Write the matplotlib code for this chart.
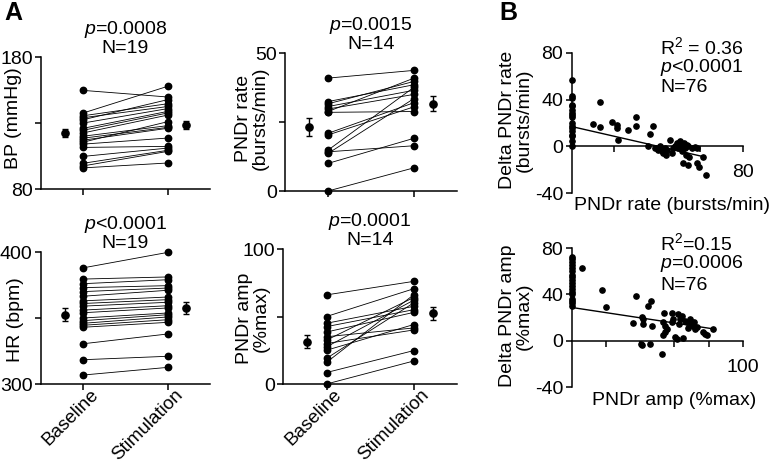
import matplotlib
matplotlib.use('Agg')
import matplotlib.pyplot as plt
import matplotlib.transforms as mtransforms
import numpy as np

plt.rcParams['font.family'] = ['Liberation Sans', 'DejaVu Sans']
plt.rcParams['mathtext.fontset'] = 'custom'
plt.rcParams['mathtext.rm'] = 'Liberation Sans'
plt.rcParams['mathtext.it'] = 'Liberation Sans:italic'
FS = 14
plt.rcParams['font.size'] = FS

# ---------------- data ----------------
groups = ['Baseline', 'Stimulation']

bp_base = [154.7, 137.6, 135.5, 134.0, 132.5, 130.0, 126.0, 124.5, 122.5, 120.0,
           118.5, 117.0, 115.5, 114.0, 111.5, 104.7, 99.5, 97.5, 96.0]
bp_stim = [149.7, 157.8, 144.6, 142.5, 147.7, 140.9, 138.8, 137.6, 136.0, 128.0,
           126.7, 126.0, 131.0, 118.6, 112.3, 111.0, 109.3, 108.5, 99.7]
bp_mean = [122.4, 128.7]
bp_sem = [3.0, 3.0]

rate_base = [40.9, 32.4, 31.6, 30.6, 29.7, 28.8, 28.5, 20.9, 20.3, 14.8, 14.2, 13.6, 10.0, 0.0]
rate_stim = [43.7, 38.5, 39.7, 36.5, 35.0, 40.9, 28.8, 32.0, 30.5, 37.6, 16.4, 33.5, 19.1, 8.4]
rate_mean = [23.1, 31.6]
rate_sem = [3.2, 2.7]

hr_base = [388.0, 379.5, 376.0, 373.0, 370.0, 366.5, 363.0, 361.0, 359.0, 356.0,
           354.0, 350.0, 348.0, 346.0, 344.5, 343.0, 330.5, 318.4, 306.8]
hr_stim = [399.7, 381.1, 379.0, 374.5, 372.7, 371.0, 365.9, 363.9, 361.9, 359.3,
           357.6, 353.8, 352.5, 350.8, 348.7, 346.7, 337.9, 321.0, 312.6]
hr_mean = [352.5, 357.6]
hr_sem = [4.8, 4.8]

amp_base = [66.0, 50.0, 45.0, 42.5, 38.5, 35.0, 32.5, 30.0, 27.5, 25.0, 19.0, 16.0, 8.5, 0.0]
amp_stim = [76.0, 70.5, 57.5, 55.0, 53.0, 41.5, 64.0, 40.0, 62.0, 44.0, 60.0, 66.0, 24.7, 17.0]
amp_mean = [31.4, 52.3]
amp_sem = [5.0, 5.0]

# Panel B: baseline value vs delta
rate_x = [0]*17 + [13.5, 9.8, 13.5, 19.0, 21.0, 21.3, 21.8, 26.2, 30.0, 30.0, 36.6, 38.1,
                   35.8, 38.9, 40.5, 41.3, 42.0, 42.8, 43.6, 44.1, 44.7, 45.9, 46.7, 47.5,
                   48.3, 49.1, 49.8, 50.6, 50.9, 51.4, 51.9, 52.5, 53.0, 53.4, 53.7, 54.2,
                   54.5, 55.0, 56.1, 58.4, 58.7, 59.6, 61.2, 62.8, 57.6]
rate_dy = [56.6, 42.9, 41.4, 35.7, 34.3, 31.4, 28.6, 27.1, 25.1, 20.0, 17.1, 15.7, 12.9,
           10.0, 8.6, 4.3, 0.0,
           38.0, 19.4, 16.6, 20.6, 18.6, 15.7, 5.7, 13.7, 25.1, 17.1, 10.9, 17.7,
           0.6, -1.4, -2.9, 0.0, -4.3, -5.7, -1.4, -7.1, -2.9, 5.7, -5.7, -1.4,
           0.6, 2.9, -1.4, 4.3, 0.6, -4.3, -14.3, 2.9, -1.4, -7.1, 1.4, -15.7,
           0.0, -9.1, -1.4, -1.4, -14.3, -17.7, -9.1, -24.3, -0.6]
rate_fit = [17.0, -0.42]   # intercept, slope
rate_fit_x = [0, 62]

amp_x = [0]*18 + [6.4, 17.5, 20.4, 37.5, 35.6, 40.9, 41.4, 41.8, 40.5, 40.9, 44.7, 46.1,
                  46.7, 45.7, 52.5, 53.9, 53.5, 54.5, 53.5, 54.5, 55.4, 58.4, 58.4, 59.3,
                  60.3, 61.3, 62.3, 62.8, 63.2, 64.2, 64.8, 66.1, 67.1, 68.1, 69.1, 70.0,
                  71.0, 71.4, 72.0, 73.0, 76.8, 77.8, 79.2, 82.3]
amp_dy = [72.6, 70.4, 67.5, 65.5, 62.7, 59.9, 57.0, 55.0, 52.8, 49.9, 47.1, 44.8, 42.0,
          40.0, 36.3, 34.3, 32.3, 30.1,
          62.7, 43.7, 28.7, 38.6, 15.3, 20.1, 18.7, 14.5, -2.6, -3.4, 29.5, 34.3,
          12.5, -2.6, -11.1, 23.8, 15.9, 12.5, 4.5, 7.4, 10.2, 23.8, 15.9, 18.7,
          3.1, 1.7, 23.0, 14.5, 18.7, 21.0, 2.3, 17.3, 15.9, 10.8, 18.7, 14.5,
          12.5, 16.5, 10.2, 11.6, 7.9, 6.0, 5.1, 10.2]
amp_fit = [28.7, -0.224]
amp_fit_x = [0, 82.5]

# ---------------- layout ----------------
W, H = 771, 465
fig = plt.figure(figsize=(W / 100, H / 100), dpi=100)


def rect(l, t, r, b):
    return [l / W, 1 - b / H, (r - l) / W, (b - t) / H]


def style(ax):
    for s in ['top', 'right']:
        ax.spines[s].set_visible(False)
    for s in ['left', 'bottom']:
        ax.spines[s].set_linewidth(1.1)
    ax.tick_params(direction='out', length=4, width=1.1, labelsize=FS, pad=2)


def paired(ax, base, stim, mean, sem, ylim, yticks, ylabels, title, show_x):
    for b, s in zip(base, stim):
        ax.plot([1, 2], [b, s], color='black', lw=0.6, zorder=2)
    ax.plot(np.ones(len(base)), base, 'o', color='black', ms=4.6, zorder=3, clip_on=False)
    ax.plot(np.full(len(stim), 2), stim, 'o', color='black', ms=4.6, zorder=3, clip_on=False)
    ax.errorbar([0.78, 2.22], mean, yerr=sem, fmt='o', color='black', ms=5.2,
                capsize=2.5, elinewidth=1, capthick=1, zorder=3)
    ax.set_xlim(0.5, 2.5)
    ax.set_ylim(*ylim)
    ax.set_yticks(yticks)
    ax.set_yticklabels(ylabels)
    ax.set_xticks([1, 2])
    style(ax)
    if show_x:
        labels = ax.set_xticklabels(groups, rotation=45, ha='right', va='top',
                                    rotation_mode='anchor', fontsize=13.5)
        off = mtransforms.ScaledTranslation(7 / 100, 6 / 100, fig.dpi_scale_trans)
        for lab in labels:
            lab.set_transform(lab.get_transform() + off)
    else:
        ax.set_xticklabels(['', ''])
    ax.set_title(title, fontsize=FS, linespacing=0.95, pad=3)


ax1 = fig.add_axes(rect(41, 57, 210, 189))
paired(ax1, bp_base, bp_stim, bp_mean, bp_sem, (80, 180), [80, 130, 180], ['80', '', '180'],
       r'$\it{p}$=0.0008' + '\nN=19', False)
fig.text(14 / W, 1 - 118 / H, 'BP (mmHg)', rotation=90, ha='center', va='center', fontsize=FS)

ax2 = fig.add_axes(rect(285, 53, 457, 191))
paired(ax2, rate_base, rate_stim, rate_mean, rate_sem, (0, 50), [0, 25, 50], ['0', '', '50'],
       r'$\it{p}$=0.0015' + '\nN=14', False)
fig.text(252 / W, 1 - 118 / H, 'PNDr rate\n(bursts/min)', rotation=90, ha='center',
         va='center', fontsize=FS, multialignment='center', linespacing=1.0)

ax3 = fig.add_axes(rect(41, 252, 210, 384))
paired(ax3, hr_base, hr_stim, hr_mean, hr_sem, (300, 400), [300, 350, 400], ['300', '', '400'],
       r'$\it{p}$<0.0001' + '\nN=19', True)
fig.text(16 / W, 1 - 320 / H, 'HR (bpm)', rotation=90, ha='center', va='center', fontsize=FS)

ax4 = fig.add_axes(rect(283, 249, 457, 384))
paired(ax4, amp_base, amp_stim, amp_mean, amp_sem, (0, 100), [0, 50, 100], ['0', '', '100'],
       r'$\it{p}$=0.0001' + '\nN=14', True)
fig.text(253 / W, 1 - 318 / H, 'PNDr amp\n(%max)', rotation=90, ha='center',
         va='center', fontsize=FS, multialignment='center', linespacing=1.0)


def scatter_panel(ax, xs, ys, fit, fit_x, xmax, xticks, xlabels):
    ax.plot(xs, ys, 'o', color='black', ms=3.8, clip_on=False, zorder=3)
    fx = np.array(fit_x, dtype=float)
    ax.plot(fx, fit[0] + fit[1] * fx, color='black', lw=1, zorder=2)
    ax.set_xlim(0, xmax)
    ax.set_ylim(-40, 80)
    ax.spines['bottom'].set_position(('data', 0))
    style(ax)
    ax.set_yticks([-40, 0, 40, 80])
    ax.set_yticklabels(['-40', '0', '40', '80'])
    ax.set_xticks(xticks)
    ax.set_xticklabels(xlabels)
    ax.tick_params(axis='x', pad=9)


ax5 = fig.add_axes(rect(571.5, 53, 743, 193))
scatter_panel(ax5, rate_x, rate_dy, rate_fit, rate_fit_x, 80, [20, 40, 60, 80], ['', '', '', '80'])
fig.text(672 / W, 1 - 205 / H, 'PNDr rate (bursts/min)', ha='center', va='center', fontsize=FS)
fig.text(516 / W, 1 - 120 / H, 'Delta PNDr rate\n(bursts/min)', rotation=90, ha='center',
         va='center', fontsize=FS, multialignment='center', linespacing=1.0)
fig.text(660 / W, 1 - 47 / H, r'R$^2$ = 0.36', ha='left', va='center', fontsize=FS)
fig.text(660 / W, 1 - 67 / H, r'$\it{p}$<0.0001', ha='left', va='center', fontsize=FS)
fig.text(660 / W, 1 - 88 / H, 'N=76', ha='left', va='center', fontsize=FS)

ax6 = fig.add_axes(rect(571.5, 248, 743, 387))
scatter_panel(ax6, amp_x, amp_dy, amp_fit, amp_fit_x, 100, [20, 40, 60, 80, 100],
              ['', '', '', '', '100'])
fig.text(674 / W, 1 - 400 / H, 'PNDr amp (%max)', ha='center', va='center', fontsize=FS)
fig.text(516 / W, 1 - 316 / H, 'Delta PNDr amp\n(%max)', rotation=90, ha='center',
         va='center', fontsize=FS, multialignment='center', linespacing=1.0)
fig.text(660 / W, 1 - 243 / H, r'R$^2$=0.15', ha='left', va='center', fontsize=FS)
fig.text(660 / W, 1 - 263 / H, r'$\it{p}$=0.0006', ha='left', va='center', fontsize=FS)
fig.text(660 / W, 1 - 285 / H, 'N=76', ha='left', va='center', fontsize=FS)

fig.text(4 / W, 1 - 13 / H, 'A', fontsize=18, fontweight='bold', ha='left', va='center')
fig.text(499 / W, 1 - 13 / H, 'B', fontsize=18, fontweight='bold', ha='left', va='center')

fig.savefig('out.png', dpi=100)
